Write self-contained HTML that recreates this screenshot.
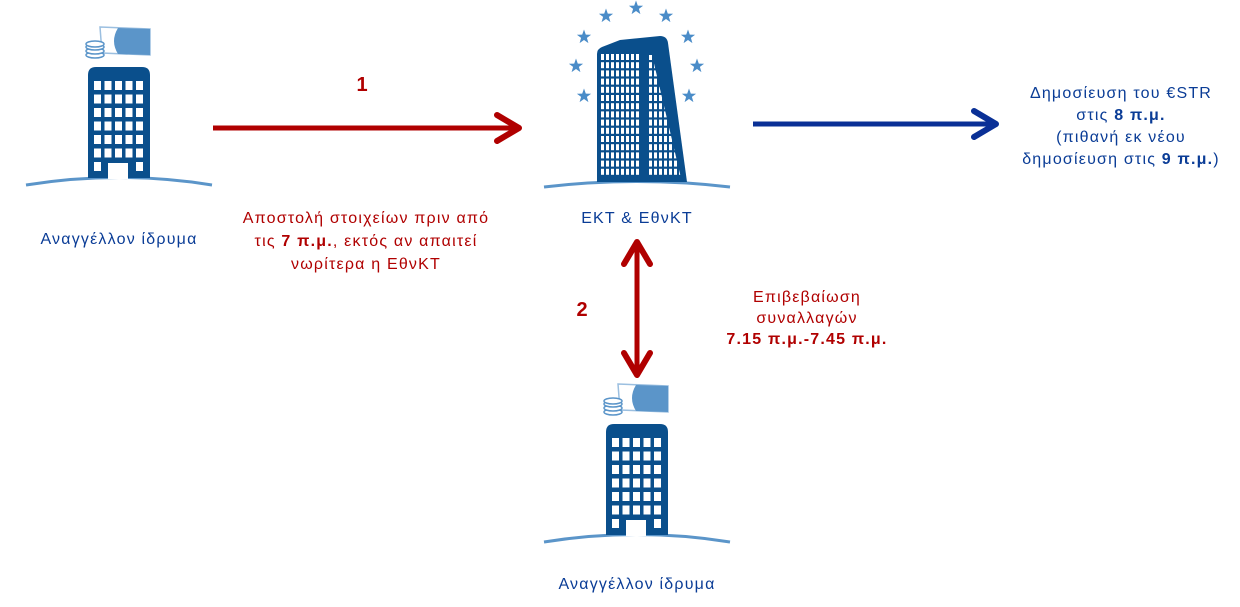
<!DOCTYPE html>
<html><head><meta charset="utf-8"><style>
html,body{margin:0;padding:0;background:#fff;width:1240px;height:607px;overflow:hidden}
svg{display:block}
text{font-family:"Liberation Sans",Arial,sans-serif;font-size:16px;letter-spacing:1.2px}
.r{fill:#b00000}.b{fill:#0a3c96}
</style></head><body>
<svg id="s" width="1240" height="607" viewBox="0 0 1240 607" xmlns="http://www.w3.org/2000/svg">
<defs>
<g id="bank">
  <path d="M26 185 Q119 170 212 185" stroke="#5b95c9" stroke-width="3" fill="none"/>
  <path d="M100 27 L150 29 L150 55 L102 53 Z" fill="#fff" stroke="#9bbfe0" stroke-width="1.5"/>
  <path d="M118 28 L150 29 L150 55 L118 54 Q110 41 118 28 Z" fill="#5b95c9"/>
  <g fill="#fff" stroke="#5b95c9" stroke-width="1.5">
    <ellipse cx="95" cy="55" rx="9" ry="3"/><ellipse cx="95" cy="51" rx="9" ry="3"/>
    <ellipse cx="95" cy="47" rx="9" ry="3"/><ellipse cx="95" cy="44" rx="9" ry="3"/>
  </g>
  <path d="M88 178 L88 75 Q88 67 96 67 L142 67 Q150 67 150 75 L150 178 Z" fill="#0a4f8c"/>
  <g id="win" fill="#fff"></g>
</g>
<clipPath id="rc"><polygon points="648,55 652,55 681,178 648,178"/></clipPath>
</defs>
<use href="#bank"/>
<use href="#bank" transform="translate(518,357)"/>

<path d="M544 187 Q637 176 730 187" stroke="#5b95c9" stroke-width="3" fill="none"/>
<path d="M597 182 L597 54 Q597 49 602 47 L620 40 L660 36 Q667 36 668 43 L687 182 Z" fill="#0a4f8c"/>
<g id="tw" fill="#fff"></g>
<g id="tw2" fill="#fff" clip-path="url(#rc)"></g>
<g id="stars" fill="#4a8cc8"></g>

<line x1="213" y1="128" x2="518" y2="128" stroke="#b00000" stroke-width="5"/>
<polyline points="497,115 519,128 497,141" fill="none" stroke="#b00000" stroke-width="6" stroke-linecap="round" stroke-linejoin="round"/>
<line x1="753" y1="124" x2="995" y2="124" stroke="#0a3096" stroke-width="5"/>
<polyline points="974,111 996,124 974,137" fill="none" stroke="#0a3096" stroke-width="6" stroke-linecap="round" stroke-linejoin="round"/>
<line x1="637" y1="245" x2="637" y2="372" stroke="#b00000" stroke-width="5"/>
<polyline points="624,264 637,242 650,264" fill="none" stroke="#b00000" stroke-width="6" stroke-linecap="round" stroke-linejoin="round"/>
<polyline points="624,353 637,375 650,353" fill="none" stroke="#b00000" stroke-width="6" stroke-linecap="round" stroke-linejoin="round"/>

<text x="362" y="91" class="r" text-anchor="middle" style="font-size:20px;font-weight:bold;letter-spacing:0">1</text>
<text x="582" y="316" class="r" text-anchor="middle" style="font-size:20px;font-weight:bold;letter-spacing:0">2</text>

<text x="119" y="244" class="b" text-anchor="middle">Αναγγέλλον ίδρυμα</text>
<text x="637" y="589" class="b" text-anchor="middle">Αναγγέλλον  ίδρυμα</text>
<text x="637" y="223" class="b" text-anchor="middle">ΕΚΤ &amp; ΕθνΚΤ</text>

<text class="r" text-anchor="middle"><tspan x="366" y="223">Αποστολή στοιχείων πριν από</tspan><tspan x="366" y="246">τις <tspan font-weight="bold">7 π.μ.</tspan>, εκτός αν απαιτεί</tspan><tspan x="366" y="269">νωρίτερα η ΕθνΚΤ</tspan></text>
<text class="r" text-anchor="middle"><tspan x="807" y="302">Επιβεβαίωση</tspan><tspan x="807" y="323">συναλλαγών</tspan><tspan x="807" y="344" font-weight="bold">7.15 π.μ.-7.45 π.μ.</tspan></text>
<text class="b" text-anchor="middle"><tspan x="1121" y="98">Δημοσίευση του €STR</tspan><tspan x="1121" y="120">στις <tspan font-weight="bold">8 π.μ.</tspan></tspan><tspan x="1121" y="142">(πιθανή εκ νέου</tspan><tspan x="1121" y="164">δημοσίευση στις <tspan font-weight="bold">9 π.μ.</tspan>)</tspan></text>
</svg>
<script>
var NS="http://www.w3.org/2000/svg";
function r(g,x,y,w,h){var e=document.createElementNS(NS,"rect");e.setAttribute("x",x);e.setAttribute("y",y);e.setAttribute("width",w);e.setAttribute("height",h);g.appendChild(e);}
var w=document.getElementById("win");
var cx=[94,104.5,115,125.5,136];
for(var i=0;i<7;i++)for(var j=0;j<5;j++){if(i==6&&j>0&&j<4)continue;r(w,cx[j],81+i*13.5,7,9);}
r(w,108,163,20,16);
var t=document.getElementById("tw"),t2=document.getElementById("tw2");
for(var i=0;i<15;i++){var y=54+i*8.2;for(var j=0;j<8;j++)r(t,601+j*5,y,3,6);for(var j=0;j<7;j++)r(t2,649+j*5,y,3,6);}
var st=document.getElementById("stars");
[[636,8],[606,16],[666,16],[584,37],[688,37],[576,66],[697,66],[584,96],[689,96]].forEach(function(p){
 var pts=[];for(var k=0;k<10;k++){var a=-Math.PI/2+k*Math.PI/5,rr=k%2?3:7.5;pts.push((p[0]+rr*Math.cos(a)).toFixed(1)+","+(p[1]+rr*Math.sin(a)).toFixed(1));}
 var e=document.createElementNS(NS,"polygon");e.setAttribute("points",pts.join(" "));st.appendChild(e);});
</script>
</body></html>
